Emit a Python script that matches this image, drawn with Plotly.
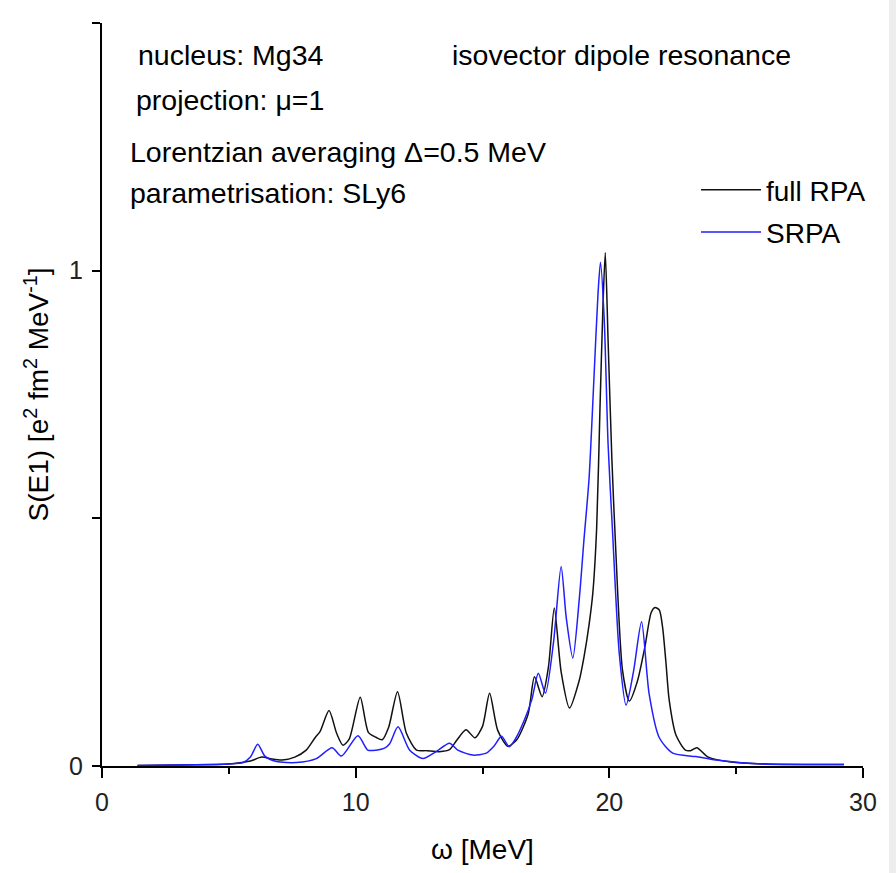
import plotly.graph_objects as go

# ---- data ----
omega_full = [1.4, 3.0, 4.5, 5.0, 5.5, 5.85, 6.3, 6.7, 7.1, 7.6, 8.05, 8.4, 8.6, 8.95, 9.25,
              9.5, 9.75, 10.18, 10.5, 10.8, 11.05, 11.3, 11.65, 12.0, 12.4, 12.8, 13.3, 13.7,
              14.0, 14.35, 14.7, 15.0, 15.28, 15.6, 16.0, 16.35, 16.8, 17.05, 17.35, 17.6,
              17.83, 18.1, 18.43, 18.8, 19.0, 19.2, 19.35, 19.5, 19.63, 19.75, 19.84, 19.95,
              20.1, 20.25, 20.52, 20.79, 21.1, 21.4, 21.65, 21.8, 21.97, 22.1, 22.23, 22.36,
              22.63, 23.0, 23.2, 23.45, 23.9, 24.8, 26.2, 29.25]
s_full = [0.001, 0.002, 0.003, 0.004, 0.007, 0.010, 0.018, 0.014, 0.012, 0.018, 0.032, 0.057,
          0.070, 0.112, 0.066, 0.042, 0.055, 0.139, 0.068, 0.058, 0.053, 0.078, 0.150, 0.066,
          0.032, 0.031, 0.029, 0.033, 0.053, 0.073, 0.057, 0.080, 0.147, 0.072, 0.040, 0.053,
          0.105, 0.180, 0.140, 0.200, 0.319, 0.190, 0.117, 0.170, 0.220, 0.285, 0.350, 0.480,
          0.720, 0.930, 1.036, 0.860, 0.620, 0.440, 0.193, 0.131, 0.170, 0.240, 0.310, 0.320,
          0.315, 0.280, 0.210, 0.133, 0.062, 0.032, 0.031, 0.037, 0.018, 0.008, 0.004, 0.003]

omega_srpa = [1.4, 3.0, 4.5, 5.0, 5.56, 5.85, 6.14, 6.42, 6.88, 7.66, 8.45, 9.07, 9.44, 10.09,
              10.48, 10.81, 11.14, 11.34, 11.67, 12.13, 12.65, 13.17, 13.7, 14.03, 14.62, 15.15,
              15.45, 15.75, 16.05, 16.3, 16.65, 16.95, 17.2, 17.48, 17.8, 18.1, 18.3, 18.56,
              18.82, 19.0, 19.2, 19.4, 19.55, 19.65, 19.8, 19.95, 20.13, 20.39, 20.66, 20.95,
              21.27, 21.57, 21.97, 22.5, 23.41, 24.2, 26.0, 29.25]
s_srpa = [0.001, 0.002, 0.003, 0.004, 0.007, 0.018, 0.044, 0.020, 0.009, 0.007, 0.015, 0.037,
          0.020, 0.061, 0.032, 0.032, 0.036, 0.045, 0.079, 0.032, 0.015, 0.029, 0.046, 0.032,
          0.022, 0.026, 0.040, 0.060, 0.039, 0.055, 0.093, 0.135, 0.187, 0.147, 0.250, 0.403,
          0.300, 0.218, 0.340, 0.457, 0.580, 0.790, 0.950, 1.017, 0.900, 0.650, 0.470, 0.228,
          0.123, 0.190, 0.291, 0.145, 0.057, 0.026, 0.019, 0.012, 0.004, 0.003]

series_names = ["full RPA", "SRPA"]
x_tickvals = [0, 10, 20, 30]
x_ticktext = ["0", "10", "20", "30"]
y_tickvals = [0, 0.5, 1, 1.5]
y_ticktext = ["0", "", "1", ""]

info_lines = ["nucleus: Mg34", "isovector dipole resonance", "projection: \u03bc=1",
              "Lorentzian averaging \u0394=0.5 MeV", "parametrisation: SLy6"]

FONT = "Arial, Liberation Sans, sans-serif"

fig = go.Figure()
fig.add_trace(go.Scatter(x=omega_full, y=s_full, mode="lines", name=series_names[0],
                         legendgroup="a",
                         line=dict(color="#111111", width=1.5, shape="spline", smoothing=0.7)))
fig.add_trace(go.Scatter(x=omega_srpa, y=s_srpa, mode="lines", name=series_names[1],
                         legendgroup="b",
                         line=dict(color="#1f1fff", width=1.5, shape="spline", smoothing=0.7)))

L, R, T, B = 102, 33, 23, 107
W, H = 896, 873
pw, ph = W - L - R, H - T - B


def px(xp):
    return (xp - L) / pw


def py(yp):
    return (H - B - yp) / ph


ann = [
    (info_lines[0], 136, 55),
    (info_lines[1], 450, 55),
    (info_lines[2], 134, 100),
    (info_lines[3], 128, 152),
    (info_lines[4], 128, 193),
]
for text, xx, yy in ann:
    fig.add_annotation(text=text, x=px(xx), y=py(yy), xref="paper", yref="paper",
                       xanchor="left", yanchor="middle", showarrow=False,
                       font=dict(family=FONT, size=28.5, color="#000000"))

# light grey strip at right edge of the picture
fig.add_shape(type="rect", xref="paper", yref="paper", x0=px(889), x1=px(900),
              y0=py(880), y1=py(-5), line=dict(width=0), fillcolor="#ededed", layer="below")

fig.update_layout(
    width=W, height=H,
    margin=dict(l=L, r=R, t=T, b=B),
    paper_bgcolor="white", plot_bgcolor="white",
    font=dict(family=FONT, color="#000000"),
    showlegend=True,
    legend=dict(x=px(696), y=py(165), xanchor="left", yanchor="top",
                bgcolor="rgba(0,0,0,0)", font=dict(family=FONT, size=28, color="#000"),
                tracegroupgap=3, itemwidth=60),
    xaxis=dict(range=[0, 30], showgrid=False, zeroline=False,
               showline=True, linecolor="#000", linewidth=2,
               ticks="outside", ticklen=10, tickwidth=2, tickcolor="#000",
               tickvals=x_tickvals, ticktext=x_ticktext,
               tickfont=dict(family=FONT, size=25, color="#222"),
               ticklabelstandoff=3,
               minor=dict(tickvals=[5, 15, 25], ticks="outside", ticklen=6, tickwidth=2,
                          tickcolor="#000", showgrid=False),
               title=dict(text="\u03c9 [MeV]", font=dict(family=FONT, size=28, color="#000"),
                          standoff=24)),
    yaxis=dict(range=[0, 1.5], showgrid=False, zeroline=False,
               showline=True, linecolor="#000", linewidth=2,
               ticks="outside", ticklen=8, tickwidth=2, tickcolor="#000",
               tickvals=y_tickvals, ticktext=y_ticktext,
               tickfont=dict(family=FONT, size=25, color="#222"),
               ticklabelstandoff=4,
               title=dict(text="S(E1) [e<sup>2</sup> fm<sup>2</sup> MeV<sup>-1</sup>]",
                          font=dict(family=FONT, size=28, color="#000"), standoff=12)),
)

fig.write_html("out.html")
